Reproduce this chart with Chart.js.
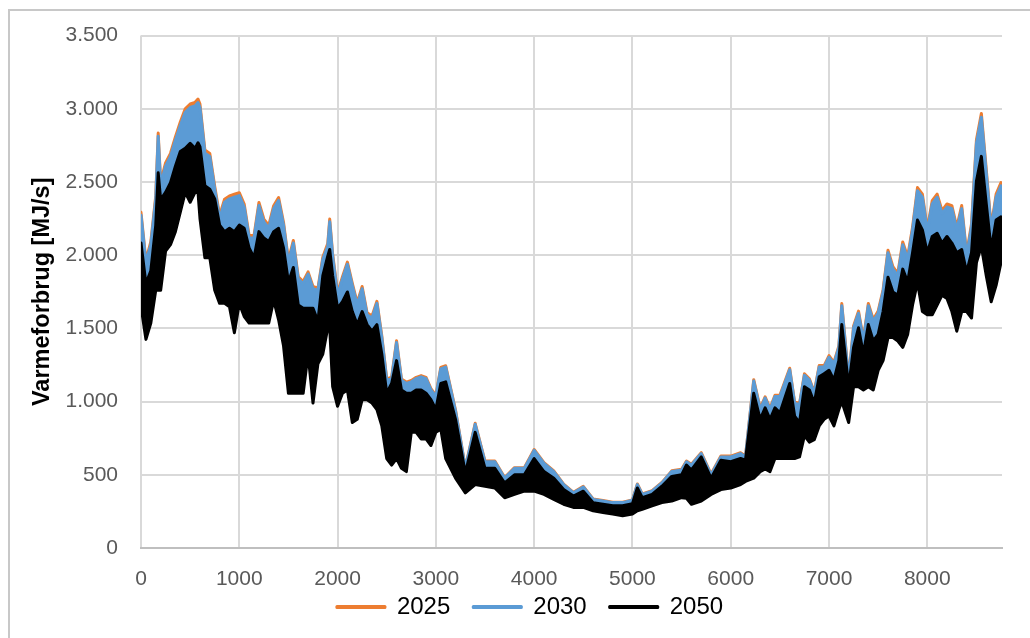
<!DOCTYPE html>
<html>
<head>
<meta charset="utf-8">
<script src="https://cdn.jsdelivr.net/npm/chart.js@4.4.1/dist/chart.umd.min.js"></script>
<style>
  html, body { margin: 0; padding: 0; background: #fff; overflow: hidden; }
  #frame { position: absolute; left: 8px; top: 9px; width: 1100px; height: 700px; border: 2px solid #c8c8c8; box-sizing: border-box; }
  #c { position: absolute; left: 0; top: 0; }
</style>
</head>
<body>
<div id="frame"></div>
<canvas id="c" width="1030" height="638"></canvas>
<script>
// hour of year for each reading
const hours = [0,50,100,150,175,200,250,300,350,400,450,500,550,580,600,650,700,750,800,850,900,950,1000,1050,1100,1150,1200,1250,1300,1350,1400,1450,
  1500,1550,1600,1650,1700,1750,1800,1850,1900,1920,1950,2000,2050,2100,2150,2200,2250,2300,2350,2400,2450,2500,2550,2600,2650,2700,2750,2800,2850,2900,2950,
  3000,3050,3100,3200,3300,3400,3500,3600,3700,3800,3900,4000,4100,4200,4300,4400,4500,4600,4700,4800,4900,5000,5050,5100,5200,5300,5400,5500,5550,5600,5700,5800,5900,6000,6100,6150,6234,6300,6350,6400,6450,6500,6600,6650,6700,6750,6800,6850,6900,6950,7000,7050,7100,7130,7200,7250,7300,7350,7400,7450,7500,7550,7600,7650,7700,7750,7800,7850,7900,7950,8000,8050,8100,8150,8200,8250,8300,8350,8400,8450,8500,8550,8600,8650,8700,8750,8760];

// upper envelope (daily peaks) per scenario, MJ/s
const peak2025 = [2293,1965,2092,2405,2835,2500,2630,2696,2808,2910,3000,3033,3044,3066,3032,2719,2695,2472,2271,2382,2405,2416,2427,2349,2135,2135,2360,2247,2203,2338,2394,2225,
  1964,2101,1853,1820,1886,1786,1775,1987,2079,2247,2009,1742,1853,1953,1808,1675,1786,1607,1584,1685,1450,1155,1166,1416,1155,1133,1144,1166,1178,1166,1089,
  1043,1233,1245,942,549,852,594,594,481,549,549,673,583,527,437,380,421,335,324,313,313,329,437,369,391,448,527,538,594,572,651,505,628,628,651,628,1150,954,1032,954,1043,1043,1228,998,987,1190,1156,1066,1246,1246,1314,1268,1381,1670,1156,1517,1618,1426,1670,1561,1618,1764,2034,1921,1876,2090,1989,2192,2462,2417,2181,2372,2417,2304,2350,2339,2192,2339,2012,2214,2789,2968,2586,2192,2417,2496,2327];
const peak2030 = [2273,1950,2072,2385,2813,2480,2608,2674,2786,2886,2976,3009,3020,3043,3009,2697,2674,2451,2251,2362,2385,2396,2407,2329,2117,2117,2340,2228,2184,2318,2374,2206,
  1949,2083,1838,1805,1871,1771,1760,1972,2061,2228,1994,1727,1838,1938,1793,1660,1771,1593,1570,1671,1437,1146,1157,1403,1146,1124,1135,1157,1169,1157,1080,
  1035,1224,1236,935,544,845,589,589,477,544,544,667,578,522,433,377,417,332,321,310,310,326,433,366,388,444,522,533,589,567,645,500,622,622,645,622,1140,946,1024,946,1035,1035,1218,990,979,1180,1147,1057,1236,1236,1303,1258,1370,1655,1147,1504,1604,1414,1655,1548,1604,1749,2017,1905,1860,2072,1972,2173,2440,2396,2162,2351,2396,2284,2329,2318,2173,2318,1994,2195,2764,2942,2563,2173,2396,2474,2307];
const peak2050 = [2083,1805,1894,2206,2563,2380,2429,2496,2608,2708,2730,2764,2730,2768,2742,2474,2451,2385,2206,2161,2184,2161,2206,2184,2050,1983,2161,2117,2094,2161,2184,2050,
  1816,1916,1660,1637,1637,1637,1548,1860,1994,2039,1860,1637,1682,1749,1615,1526,1615,1526,1481,1526,1325,1057,1124,1280,1080,1057,1057,1080,1080,1057,1013,
  946,1124,1135,879,511,790,544,544,444,500,500,611,522,477,399,355,388,310,299,288,288,303,410,344,366,422,489,500,567,533,622,477,600,589,611,600,1057,879,957,879,957,923,1124,901,857,1102,1080,990,1169,1191,1214,1147,1280,1526,1102,1370,1504,1325,1526,1414,1459,1615,1849,1749,1727,1905,1816,2017,2240,2173,2017,2128,2150,2083,2128,2083,2017,2039,1883,2017,2507,2675,2351,2039,2240,2262,2106];
// lower envelope (night lows); 2050 is drawn on top so it hides the other lows
const low2050 = [1650,1425,1537,1760,1760,1760,2028,2072,2161,2295,2429,2362,2429,2429,2251,1983,1983,1760,1671,1671,1648,1470,1671,1581,1537,1537,1537,1537,1537,1693,1559,1381,
  1057,1057,1057,1057,1325,990,1258,1325,1503,1503,1102,968,1057,1080,857,879,1013,1013,990,946,834,611,566,611,544,522,790,790,745,745,700,
  790,812,611,477,377,433,422,410,343,366,388,388,366,332,299,277,277,254,243,232,221,232,254,265,288,310,321,344,340,299,321,366,399,410,433,455,477,522,540,522,611,611,611,611,622,767,723,740,834,879,901,834,946,1000,857,1102,1102,1080,1102,1080,1214,1280,1437,1437,1414,1370,1459,1660,1816,1615,1593,1593,1660,1727,1704,1615,1481,1615,1615,1571,1950,2061,1860,1682,1794,1950,1960];

const seriesNames = ['2025', '2030', '2050'];
const seriesColors = ['#ED7D31', '#5B9BD5', '#000000'];
const xTicks = [0, 1000, 2000, 3000, 4000, 5000, 6000, 7000, 8000];

const pts = arr => arr.map((v, i) => ({ x: hours[i], y: v }));

function fmtDot(v) {
  return String(v).replace(/\B(?=(\d{3})+(?!\d))/g, '.');
}

// legend: fixed height, then nudged up/right like the excel original
const legendTweak = {
  id: 'legendTweak',
  beforeInit(chart) {
    const fit = chart.legend.fit;
    chart.legend.fit = function () { fit.call(this); this.height = 46; };
  },
  afterLayout(chart) {
    const lg = chart.legend;
    lg.left += 16; lg.right += 16;
    lg.top -= 20; lg.bottom -= 20;
  }
};

const band = (name, data, color, order) => ({
  label: name, data: pts(data), borderColor: color, backgroundColor: color,
  borderWidth: 3, borderJoinStyle: 'round', borderCapStyle: 'round',
  pointRadius: 0, tension: 0, fill: 3, order: order
});

new Chart(document.getElementById('c'), {
  type: 'line',
  data: {
    datasets: [
      band(seriesNames[0], peak2025, seriesColors[0], 3),
      band(seriesNames[1], peak2030, seriesColors[1], 2),
      band(seriesNames[2], peak2050, seriesColors[2], 1),
      { label: 'low', data: pts(low2050), borderColor: '#000', backgroundColor: '#000', borderWidth: 3, borderJoinStyle: 'round', pointRadius: 0, fill: false, order: 0 }
    ]
  },
  options: {
    responsive: false,
    animation: false,
    devicePixelRatio: 1,
    layout: { padding: { left: 26, right: 28, top: 25, bottom: 0 } },
    plugins: {
      tooltip: { enabled: false },
      legend: {
        position: 'bottom',
        labels: {
          filter: item => item.datasetIndex < 3,
          sort: (a, b) => a.datasetIndex - b.datasetIndex,
          boxWidth: 48, boxHeight: 1, padding: 23, color: '#000',
          font: { family: 'Liberation Sans', size: 24 }
        }
      }
    },
    scales: {
      x: {
        type: 'linear', min: 0, max: 8760,
        afterBuildTicks: s => { s.ticks = xTicks.map(v => ({ value: v })); },
        afterFit: s => { s.height = 44; },
        ticks: { padding: 19, color: '#595959', font: { family: 'Liberation Sans', size: 21 }, maxRotation: 0, callback: v => String(v) },
        grid: { color: '#d9d9d9', lineWidth: 2, drawTicks: false },
        border: { display: true, color: '#bfbfbf', width: 2 }
      },
      y: {
        min: 0, max: 3500,
        afterFit: s => { s.width = 115; },
        ticks: { stepSize: 500, padding: 23, color: '#595959', font: { family: 'Liberation Sans', size: 21 }, callback: v => fmtDot(v) },
        grid: { color: '#d9d9d9', lineWidth: 2, drawTicks: false },
        border: { display: false },
        title: { display: true, text: 'Varmeforbrug [MJ/s]', color: '#000', padding: { top: 2, bottom: 0 }, font: { family: 'Liberation Sans', size: 23.5, weight: 'bold' } }
      }
    }
  },
  plugins: [legendTweak]
});
</script>
</body>
</html>
